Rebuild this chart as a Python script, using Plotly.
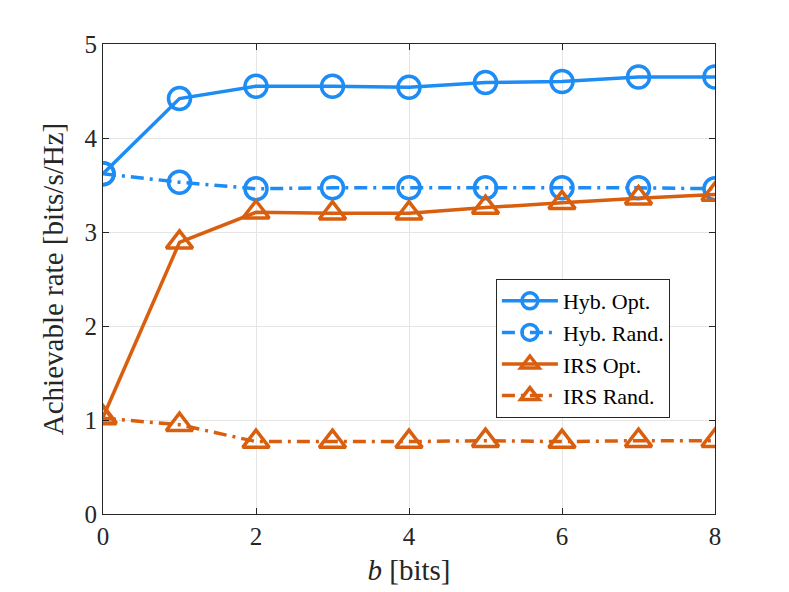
import plotly.graph_objects as go

# bits
b = [0, 1, 2, 3, 4, 5, 6, 7, 8]

# achievable rate [bits/s/Hz]
hyb_opt = [3.62, 4.42, 4.55, 4.55, 4.54, 4.59, 4.60, 4.65, 4.65]
hyb_rand = [3.62, 3.53, 3.46, 3.47, 3.47, 3.47, 3.47, 3.47, 3.46]
irs_opt = [1.03, 2.89, 3.21, 3.20, 3.20, 3.26, 3.31, 3.36, 3.40]
irs_rand = [1.02, 0.95, 0.77, 0.77, 0.77, 0.78, 0.77, 0.78, 0.78]

blue = "#1E8CF5"
orange = "#D95F0E"
dashdot = "13px,6px,3px,6px"

fig = go.Figure()
fig.add_trace(go.Scatter(x=b, y=hyb_opt, name="Hyb. Opt.", mode="lines+markers",
                         line=dict(color=blue, width=3.5),
                         marker=dict(symbol="circle-open", size=22, color=blue, line=dict(width=3.5))))
fig.add_trace(go.Scatter(x=b, y=hyb_rand, name="Hyb. Rand.", mode="lines+markers",
                         line=dict(color=blue, width=3.5, dash=dashdot),
                         marker=dict(symbol="circle-open", size=22, color=blue, line=dict(width=3.5))))
fig.add_trace(go.Scatter(x=b, y=irs_opt, name="IRS Opt.", mode="lines+markers",
                         line=dict(color=orange, width=3.5),
                         marker=dict(symbol="triangle-up-open", size=23, color=orange, line=dict(width=3.5))))
fig.add_trace(go.Scatter(x=b, y=irs_rand, name="IRS Rand.", mode="lines+markers",
                         line=dict(color=orange, width=3.5, dash=dashdot),
                         marker=dict(symbol="triangle-up-open", size=23, color=orange, line=dict(width=3.5))))

axis_style = dict(showline=True, linecolor="#262626", linewidth=1, mirror="ticks",
                  ticks="inside", ticklen=6, tickcolor="#262626",
                  showgrid=True, gridcolor="#E5E5E5", zeroline=False,
                  tickfont=dict(size=25, color="#262626"))

fig.update_layout(
    width=789, height=592,
    margin=dict(l=95, r=82, t=36, b=86),
    paper_bgcolor="white", plot_bgcolor="white",
    font=dict(family="Liberation Serif, DejaVu Serif, serif", color="#262626"),
    xaxis=dict(range=[0, 8], dtick=2, title=dict(text="<i>b</i> [bits]", font=dict(size=29), standoff=10),
               **axis_style),
    yaxis=dict(range=[0, 5], dtick=1, title=dict(text="Achievable rate [bits/s/Hz]", font=dict(size=29), standoff=12),
               **axis_style),
    legend=dict(x=0.642, y=0.5, xanchor="left", yanchor="top",
                bgcolor="white", bordercolor="#262626", borderwidth=1,
                font=dict(size=22, color="black"), tracegroupgap=0, itemwidth=56),
    showlegend=True,
)

fig.write_html("out.html")
